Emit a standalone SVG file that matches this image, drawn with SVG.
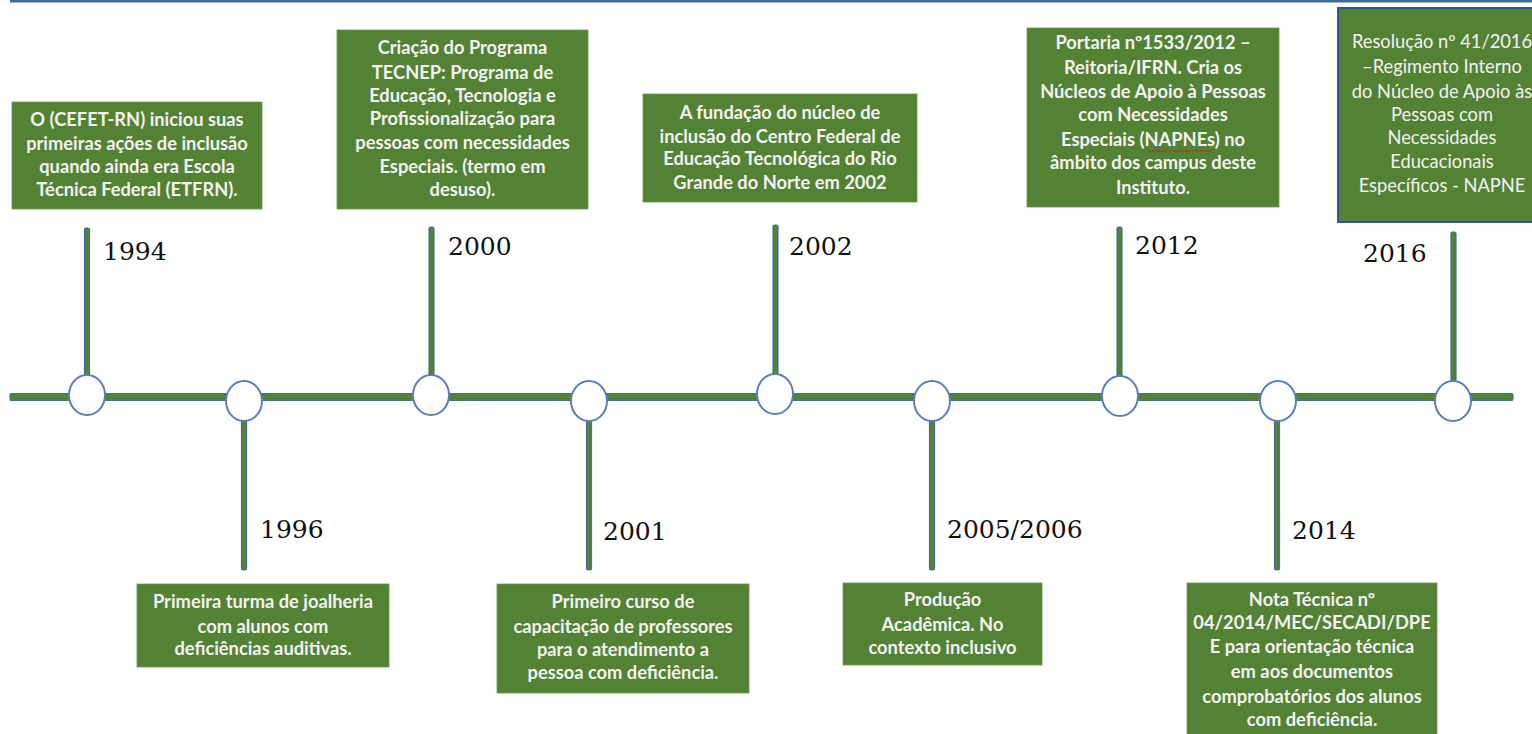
<svg xmlns="http://www.w3.org/2000/svg" width="1532" height="734" viewBox="0 0 1532 734">
<style>
.bg{fill:#ffffff}
.bar{fill:#548235;stroke:#41719C;stroke-width:1.2}
.dot{fill:#ffffff;stroke:#5B7FB5;stroke-width:2}
.box{fill:#548235;stroke:#6A9A4A;stroke-width:0.8}
.box2{fill:#548235;stroke:#2F5597;stroke-width:2}
.t{font-family:Lato,"Liberation Sans",sans-serif;font-weight:bold;font-size:18.3px;fill:#F2F2F2;text-anchor:middle}
.tr{font-family:Lato,"Liberation Sans",sans-serif;font-weight:normal;font-size:18.3px;fill:#F2F2F2;text-anchor:middle}
.yr{font-family:"DejaVu Serif","Liberation Serif",serif;font-size:25px;fill:#111111}
</style>
<rect class="bg" x="0" y="0" width="1532" height="734"/>
<rect x="10" y="0" width="1522" height="2.5" fill="#3E6A94"/>
<g id="connectors">
  <rect class="bar" x="10" y="393.5" width="1503" height="7" rx="1.5"/>
  <rect class="bar" x="84.5" y="228" width="5" height="150" rx="1.5"/>
  <rect class="bar" x="241.5" y="420" width="5" height="150" rx="1.5"/>
  <rect class="bar" x="429" y="227" width="5" height="150" rx="1.5"/>
  <rect class="bar" x="586.5" y="420" width="5" height="150" rx="1.5"/>
  <rect class="bar" x="773" y="225" width="5" height="150" rx="1.5"/>
  <rect class="bar" x="929.5" y="420" width="5" height="150" rx="1.5"/>
  <rect class="bar" x="1117" y="227" width="5" height="150" rx="1.5"/>
  <rect class="bar" x="1274.5" y="420" width="5" height="150" rx="1.5"/>
  <rect class="bar" x="1451" y="232" width="5" height="150" rx="1.5"/>
</g>
<g id="n1994">
  <ellipse class="dot" cx="87" cy="395" rx="18" ry="20"/>
  <rect class="box" x="12" y="102" width="250" height="107"/>
  <text class="t"><tspan x="137" y="126">O (CEFET-RN) iniciou suas</tspan><tspan x="137" y="150">primeiras ações de inclusão</tspan><tspan x="137" y="173">quando ainda era Escola</tspan><tspan x="137" y="196">Técnica Federal (ETFRN).</tspan></text>
  <text class="yr" x="103" y="260">1994</text>
</g>
<g id="n1996">
  <ellipse class="dot" cx="244" cy="401" rx="18" ry="20"/>
  <rect class="box" x="137" y="584" width="252" height="83"/>
  <text class="t"><tspan x="263" y="608">Primeira turma de joalheria</tspan><tspan x="263" y="633">com alunos com</tspan><tspan x="263" y="655">deficiências auditivas.</tspan></text>
  <text class="yr" x="260" y="538">1996</text>
</g>
<g id="n2000">
  <ellipse class="dot" cx="431" cy="395" rx="18" ry="20"/>
  <rect class="box" x="337" y="30" width="251" height="179"/>
  <text class="t"><tspan x="462.5" y="54">Criação do Programa</tspan><tspan x="462.5" y="79">TECNEP: Programa de</tspan><tspan x="462.5" y="102">Educação, Tecnologia e</tspan><tspan x="462.5" y="125">Profissionalização para</tspan><tspan x="462.5" y="149">pessoas com necessidades</tspan><tspan x="462.5" y="173">Especiais. (termo em</tspan><tspan x="462.5" y="196">desuso).</tspan></text>
  <text class="yr" x="448" y="255">2000</text>
</g>
<g id="n2001">
  <ellipse class="dot" cx="589" cy="401" rx="18" ry="20"/>
  <rect class="box" x="497" y="584" width="252" height="109"/>
  <text class="t"><tspan x="623" y="608">Primeiro curso de</tspan><tspan x="623" y="633">capacitação de professores</tspan><tspan x="623" y="656">para o atendimento a</tspan><tspan x="623" y="679">pessoa com deficiência.</tspan></text>
  <text class="yr" x="603" y="540">2001</text>
</g>
<g id="n2002">
  <ellipse class="dot" cx="775" cy="394" rx="18" ry="20"/>
  <rect class="box" x="643" y="94" width="274" height="108"/>
  <text class="t"><tspan x="780" y="119">A fundação do núcleo de</tspan><tspan x="780" y="143">inclusão do Centro Federal de</tspan><tspan x="780" y="165">Educação Tecnológica do Rio</tspan><tspan x="780" y="189">Grande do Norte em 2002</tspan></text>
  <text class="yr" x="789" y="255">2002</text>
</g>
<g id="n2005">
  <ellipse class="dot" cx="932" cy="401" rx="18" ry="20"/>
  <rect class="box" x="843" y="583" width="199" height="82"/>
  <text class="t"><tspan x="942.5" y="606">Produção</tspan><tspan x="942.5" y="631">Acadêmica. No</tspan><tspan x="942.5" y="654">contexto inclusivo</tspan></text>
  <text class="yr" x="947" y="538">2005/2006</text>
</g>
<g id="n2012">
  <ellipse class="dot" cx="1120" cy="396" rx="18" ry="20"/>
  <rect class="box" x="1027" y="28" width="252" height="179"/>
  <text class="t"><tspan x="1153" y="49">Portaria nº1533/2012 –</tspan><tspan x="1153" y="74">Reitoria/IFRN. Cria os</tspan><tspan x="1153" y="98">Núcleos de Apoio à Pessoas</tspan><tspan x="1153" y="121">com Necessidades</tspan><tspan x="1153" y="146">Especiais (NAPNEs) no</tspan><tspan x="1153" y="169">âmbito dos campus deste</tspan><tspan x="1153" y="194">Instituto.</tspan></text>
  <path d="M1148 150 l2 2 l2 -2 l2 2 l2 -2 l2 2 l2 -2 l2 2 l2 -2 l2 2 l2 -2 l2 2 l2 -2 l2 2 l2 -2 l2 2 l2 -2 l2 2 l2 -2 l2 2 l2 -2 l2 2 l2 -2 l2 2 l2 -2 l2 2 l2 -2 l2 2 l2 -2 l2 2 l2 -2 l2 2 l2 -2" fill="none" stroke="#D02020" stroke-width="1"/>
  <text class="yr" x="1135" y="254">2012</text>
</g>
<g id="n2014">
  <ellipse class="dot" cx="1278" cy="401" rx="18" ry="20"/>
  <rect class="box" x="1187" y="583" width="250" height="155"/>
  <text class="t"><tspan x="1312" y="606">Nota Técnica nº</tspan><tspan x="1312" y="629">04/2014/MEC/SECADI/DPE</tspan><tspan x="1312" y="653">E para orientação técnica</tspan><tspan x="1312" y="678">em aos documentos</tspan><tspan x="1312" y="703">comprobatórios dos alunos</tspan><tspan x="1312" y="726">com deficiência.</tspan></text>
  <text class="yr" x="1292" y="539">2014</text>
</g>
<g id="n2016">
  <ellipse class="dot" cx="1453" cy="401" rx="18" ry="20"/>
  <rect class="box2" x="1338" y="8" width="200" height="214"/>
  <text class="tr"><tspan x="1442" y="48">Resolução nº 41/2016</tspan><tspan x="1442" y="73">–Regimento Interno</tspan><tspan x="1442" y="98">do Núcleo de Apoio às</tspan><tspan x="1442" y="121">Pessoas com</tspan><tspan x="1442" y="144">Necessidades</tspan><tspan x="1442" y="168">Educacionais</tspan><tspan x="1442" y="192">Específicos - NAPNE</tspan></text>
  <text class="yr" x="1363" y="262">2016</text>
</g>
</svg>
